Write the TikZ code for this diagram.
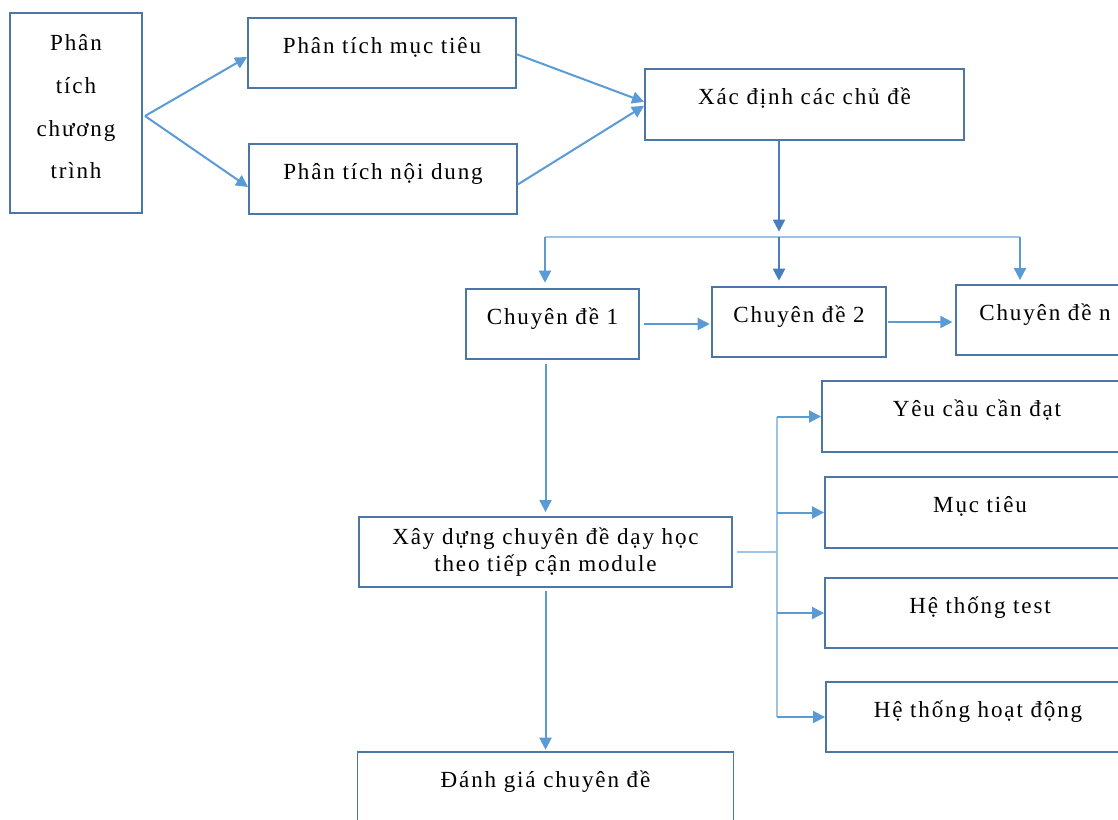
\documentclass[tikz,border=0pt]{standalone}
\usepackage{fontspec}
\setmainfont{Liberation Serif}[LetterSpace=8]
\usetikzlibrary{arrows.meta}
\definecolor{boxc}{HTML}{4A76A8}
\definecolor{arrc}{HTML}{5B9BD5}
\definecolor{darkarr}{HTML}{4A7EBB}
\definecolor{busc}{HTML}{9DC3E6}
\tikzset{
  box/.style={draw=boxc, line width=1.4pt, rectangle, inner sep=0pt, align=center,
    minimum height={70*0.75}, text height=8pt, text depth=8pt, font=\fontsize{17.3}{20}\selectfont},
  arr/.style={draw=arrc, line width=1.5pt, -{Triangle[length=9pt,width=9pt]}},
  darr/.style={draw=darkarr, line width=1.5pt, -{Triangle[length=9pt,width=9pt]}},
  bus/.style={draw=busc, line width=1.5pt},
}
\begin{document}
\begin{tikzpicture}[x=0.75pt, y=-0.75pt]
\useasboundingbox (0,0) rectangle (1118,819);
% nodes
\node[draw=boxc, line width=1.4pt, rectangle, inner sep=0pt, minimum width={132*0.75}, minimum height={200*0.75}] (prog) at (76,113) {};
\node[font=\fontsize{17.3}{32}\selectfont, align=center, inner sep=0pt] (progtext) at (76,107) {Phân\\tích\\chương\\trình};
\node[box, minimum width={268*0.75}] (muctieu) at (382,53) {Phân tích mục tiêu};
\node[box, minimum width={268*0.75}] (noidung) at (383,179) {Phân tích nội dung};
\node[box, minimum width={319*0.75}, minimum height={71*0.75}] (xacdinh) at (804.5,104.5) {Xác định các chủ đề};
\node[box, minimum width={173*0.75}] (cd1) at (552.5,324) {Chuyên đề 1};
\node[box, minimum width={174*0.75}] (cd2) at (799,322) {Chuyên đề 2};
\node[box, minimum width={178*0.75}] (cdn) at (1045,320) {Chuyên đề n};
\node[box, minimum width={310*0.75}, minimum height={71*0.75}] (yeucau) at (977,416.5) {Yêu cầu cần đạt};
\node[box, minimum width={310*0.75}, minimum height={71*0.75}] (mt) at (980,512.5) {Mục tiêu};
\node[box, minimum width={310*0.75}] (test) at (980,613) {Hệ thống test};
\node[box, minimum width={304*0.75}] (hd) at (978,717) {Hệ thống hoạt động};
\node[box, minimum width={373*0.75}, text height={}, text depth={}] (xd) at (545.5,552) {Xây dựng chuyên đề dạy học\\theo tiếp cận module};
\node[box, minimum width={376*0.75}] (dg) at (545.5,787) {Đánh giá chuyên đề};
% coordinates
\coordinate (fork) at (145,116);
\coordinate (busTop) at (779,237);
\coordinate (busL) at (545,237);
\coordinate (busR) at (1020,237);
\coordinate (vTop) at (777,416.5);
\coordinate (vBot) at (777,717);
% connectors
\draw[arr] (fork) -- ([yshift=-3pt]muctieu.west);
\draw[arr] (fork) -- ([yshift=-6pt]noidung.west);
\draw[arr] ([yshift=-1pt]muctieu.east) -- ([yshift=2pt]xacdinh.west);
\draw[arr] ([yshift=-4pt]noidung.east) -- ([yshift=-1pt]xacdinh.west);
\draw[darr, shorten >=4pt] (busTop |- xacdinh.south) -- (busTop);
\draw[bus] (busL) -- (busR);
\draw[arr, shorten >=4pt] (busL) -- (busL |- cd1.north);
\draw[darr, shorten >=4pt] (busTop) -- (busTop |- cd2.north);
\draw[arr, shorten >=3pt] (busR) -- (busR |- cdn.north);
\draw[arr, shorten <=3pt, shorten >=1pt] (cd1.east) -- (cd1.east -| cd2.west);
\draw[arr, shorten <=1pt, shorten >=2pt] (cd2.east) -- (cd2.east -| cdn.west);
\draw[arr, shorten <=3pt, shorten >=3pt] (cd1.south -| xd.north) -- (xd.north);
\draw[arr, shorten <=2pt, shorten >=1pt] (xd.south) -- (dg.north);
\draw[bus, shorten <=3pt] (xd.east) -- (xd.east -| vTop);
\draw[bus] (vTop) -- (vBot);
\draw[arr] (vTop) -- (vTop -| yeucau.west);
\draw[arr] (vTop |- mt.west) -- (mt.west);
\draw[arr] (vTop |- test.west) -- (test.west);
\draw[arr] (vBot) -- (vBot -| hd.west);
\end{tikzpicture}
\end{document}
